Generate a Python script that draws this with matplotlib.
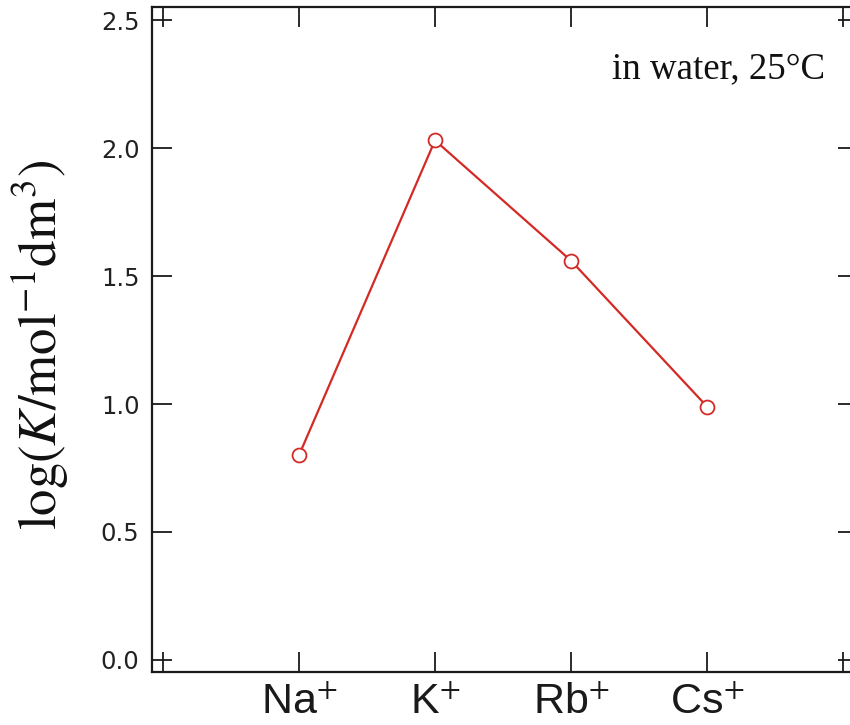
import matplotlib
matplotlib.use("Agg")
import matplotlib.pyplot as plt

ions = ["Na", "K", "Rb", "Cs"]
x_pos = [1, 2, 3, 4]
logK = [0.80, 2.03, 1.56, 0.99]
y_ticks = [0.0, 0.5, 1.0, 1.5, 2.0, 2.5]

plt.rcParams['mathtext.fontset'] = 'stix'

W, H = 850, 725
fig = plt.figure(figsize=(W/100, H/100), dpi=100)
left, right, bottom, top = 152, 858, 672, 7
ax = fig.add_axes([left/W, 1-bottom/H, (right-left)/W, (bottom-top)/H])

ax.plot(x_pos, logK, color='#d42a25', lw=1.6, marker='o', ms=10,
        mfc='white', mec='#d42a25', mew=1.3, zorder=3)

ax.set_xlim(-0.081, 5.11)
ax.set_ylim(-0.047, 2.551)

ax.set_xticks([0, 1, 2, 3, 4, 5])
ax.set_xticklabels([""] + [n + r"$^{+}$" for n in ions] + [""],
                   family='Liberation Sans', fontsize=31, color='#1a1a1a')
ax.set_yticks(y_ticks)
ax.set_yticklabels([f"{v:.1f}" for v in y_ticks], family='DejaVu Sans',
                   fontsize=17.5, color='#222222')

ax.tick_params(direction='in', length=14.5, width=1.3, color='#1a1a1a',
               top=True, right=True)
ax.tick_params(axis='x', pad=8)
ax.tick_params(axis='y', pad=9)

for s in ax.spines.values():
    s.set_linewidth(1.6)
    s.set_color('#1a1a1a')

fig.text(40/W, 1-345/H, r'$\mathrm{log}(K/\mathrm{mol}^{-1}\mathrm{dm}^{3})$',
         rotation=90, ha='center', va='center', fontsize=38, color='#111111')

ax.text(825, H-78, "in water, 25°C", transform=None, ha='right', va='baseline',
        family='Liberation Serif', fontsize=26.6, color='#111111')

fig.savefig("out.png", dpi=100)
